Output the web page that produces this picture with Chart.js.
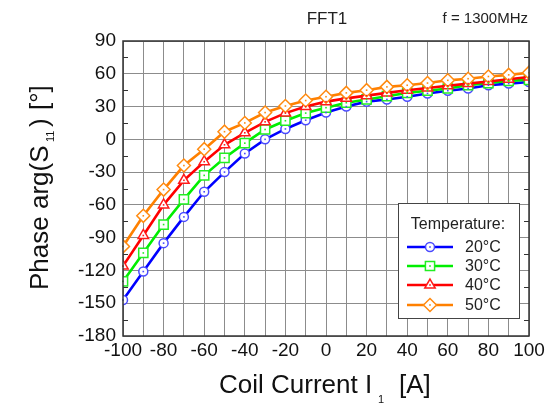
<!DOCTYPE html>
<html>
<head>
<meta charset="utf-8">
<script src="https://cdn.jsdelivr.net/npm/chart.js@4/dist/chart.umd.min.js"></script>
<style>
  body { margin: 0; background: #fff; }
  #wrap { width: 554px; height: 405px; }
</style>
</head>
<body>
<div id="wrap"><canvas id="myChart" width="554" height="405"></canvas></div>
<script>
// coil current I1 [A]
const current = [-100, -90, -80, -70, -60, -50, -40, -30, -20, -10, 0, 10, 20, 30, 40, 50, 60, 70, 80, 90, 100];
// phase arg(S11) [deg] per temperature
const phase20 = [-147, -121, -95, -71, -48, -30, -13, 0, 9.5, 17.5, 24.5, 30, 34.5, 36.5, 39, 42, 44.5, 46.5, 49.5, 51, 52.5];
const phase30 = [-130, -104, -78, -55, -33, -17, -3.5, 9, 17, 24, 29, 33.5, 36.5, 39.5, 42.5, 44.5, 46.5, 49.5, 51.5, 53.5, 54.5];
const phase40 = [-116, -88, -60, -37.5, -20.5, -5, 6, 16, 24, 30, 34.5, 37.5, 40, 42.5, 45, 47, 49, 51, 53, 55, 57];
const phase50 = [-98, -70, -46, -24, -9, 7, 15, 24.5, 30.5, 35.5, 39, 42.5, 45, 48, 49.5, 51.5, 54, 55.5, 57.5, 59, 61];
const temperatures = ['20°C', '30°C', '40°C', '50°C'];
const xTickLabels = ['-100', '-80', '-60', '-40', '-20', '0', '20', '40', '60', '80', '100'];
const yTickLabels = ['-180', '-150', '-120', '-90', '-60', '-30', '0', '30', '60', '90'];

const FONT = '"Liberation Sans", Arial, sans-serif';
const colors = ['#0000ff', '#00ee00', '#ff0000', '#ff8000'];
const markerColors = ['#4a4aff', '#22ee22', '#ff1a1a', '#ff8a10'];
const shapes = ['circle', 'rect', 'triangle', 'rectRot'];
const radii = [4.5, 6.5, 6, 6.5];
const series = [phase20, phase30, phase40, phase50];

function makeDataset(i) {
  return {
    label: temperatures[i],
    data: current.map((x, k) => ({ x: x, y: series[i][k] })),
    borderColor: colors[i],
    borderWidth: 2.6,
    pointStyle: shapes[i],
    pointRadius: radii[i],
    pointBorderColor: markerColors[i],
    pointBackgroundColor: '#ffffff',
    pointBorderWidth: 1.5,
    tension: 0,
    order: 3 - i
  };
}

// text piece at a given start position along the baseline
function piece(ctx, text, x, y, size) {
  ctx.font = size + 'px ' + FONT;
  ctx.fillText(text, x, y);
  return x + ctx.measureText(text).width;
}

const extras = {
  id: 'extras',
  afterDatasetsDraw(chart) {
    const ctx = chart.ctx;
    // little dot in the middle of every marker
    chart.data.datasets.forEach((ds, i) => {
      chart.getDatasetMeta(i).data.forEach(pt => {
        ctx.fillStyle = markerColors[i];
        ctx.fillRect(pt.x - 0.8, pt.y - 0.8, 1.6, 1.6);
      });
    });
  },
  afterDraw(chart) {
    const ctx = chart.ctx;
    const a = chart.chartArea;
    const ys = chart.scales.y;
    ctx.save();

    // frame
    ctx.strokeStyle = '#333';
    ctx.lineWidth = 1.5;
    ctx.strokeRect(a.left, a.top, a.right - a.left, a.bottom - a.top);

    // minor y ticks inside both edges
    ctx.lineWidth = 1;
    for (let v = -165; v < 90; v += 30) {
      const py = Math.round(ys.getPixelForValue(v)) + 0.5;
      ctx.beginPath();
      ctx.moveTo(a.left, py); ctx.lineTo(a.left + 5, py);
      ctx.moveTo(a.right, py); ctx.lineTo(a.right - 5, py);
      ctx.stroke();
    }

    // titles
    ctx.fillStyle = '#222';
    ctx.font = '17px ' + FONT;
    ctx.textAlign = 'center';
    ctx.textBaseline = 'middle';
    ctx.fillText('FFT1', 327, 19);
    ctx.font = '15px ' + FONT;
    ctx.textAlign = 'right';
    ctx.fillText('f = 1300MHz', 528, 19);

    // x axis title, subscript placed by hand
    ctx.fillStyle = '#111';
    ctx.textAlign = 'left';
    ctx.textBaseline = 'alphabetic';
    piece(ctx, 'Coil Current I', 219, 393, 26);
    piece(ctx, '1', 378, 403, 11);
    piece(ctx, '[A]', 399, 393, 26);

    // y axis title, rotated
    ctx.save();
    ctx.translate(48, 0);
    ctx.rotate(-Math.PI / 2);
    piece(ctx, 'Phase arg(S', -290, 0, 26);
    piece(ctx, '11', -142, 6, 11);
    piece(ctx, ')', -127, 0, 26);
    piece(ctx, '[°]', -110, 0, 26);
    ctx.restore();

    // legend box
    const bx = 398, by = 203, bw = 121, bh = 115;
    ctx.fillStyle = '#fff';
    ctx.fillRect(bx, by, bw, bh);
    ctx.strokeStyle = '#444';
    ctx.lineWidth = 1;
    ctx.strokeRect(bx + 0.5, by + 0.5, bw, bh);
    ctx.fillStyle = '#222';
    ctx.font = '16px ' + FONT;
    ctx.textAlign = 'center';
    ctx.textBaseline = 'middle';
    ctx.fillText('Temperature:', 458, 225);

    const rowY = [247, 266, 285, 305];
    chart.data.datasets.forEach((ds, i) => {
      const y = rowY[i];
      ctx.strokeStyle = colors[i];
      ctx.lineWidth = 2.6;
      ctx.beginPath();
      ctx.moveTo(407, y); ctx.lineTo(453, y);
      ctx.stroke();
      ctx.fillStyle = '#fff';
      ctx.strokeStyle = markerColors[i];
      ctx.lineWidth = 1.5;
      Chart.helpers.drawPoint(ctx, { pointStyle: shapes[i], rotation: 0, borderWidth: 1.5, radius: radii[i] }, 430, y);
      ctx.fillStyle = markerColors[i];
      ctx.fillRect(429.2, y - 0.8, 1.6, 1.6);
      ctx.fillStyle = '#222';
      ctx.font = '16px ' + FONT;
      ctx.textAlign = 'left';
      ctx.fillText(ds.label, 465, y + 1);
    });
    ctx.restore();
  }
};

const ctx = document.getElementById('myChart').getContext('2d');
const myChart = new Chart(ctx, {
  type: 'line',
  data: { datasets: [0, 1, 2, 3].map(makeDataset) },
  options: {
    responsive: false,
    animation: false,
    layout: { padding: { left: 0, right: 25, top: 41, bottom: 0 } },
    plugins: { legend: { display: false }, tooltip: { enabled: false } },
    scales: {
      x: {
        type: 'linear',
        min: -100,
        max: 100,
        afterFit(scale) { scale.height = 69; },
        ticks: {
          stepSize: 10,
          autoSkip: false,
          maxRotation: 0,
          padding: 3,
          color: '#111',
          font: { family: FONT, size: 19 },
          callback: v => xTickLabels.includes(String(v)) ? String(v) : ''
        },
        grid: { color: '#8c8c8c', lineWidth: 1, drawTicks: false },
        border: { display: false }
      },
      y: {
        min: -180,
        max: 90,
        afterFit(scale) { scale.width = 123; },
        ticks: {
          stepSize: 30,
          padding: 7,
          color: '#111',
          font: { family: FONT, size: 19 },
          callback: v => yTickLabels.includes(String(v)) ? String(v) : ''
        },
        grid: { color: '#8c8c8c', lineWidth: 1, drawTicks: false },
        border: { display: false }
      }
    }
  },
  plugins: [extras]
});
</script>
</body>
</html>
